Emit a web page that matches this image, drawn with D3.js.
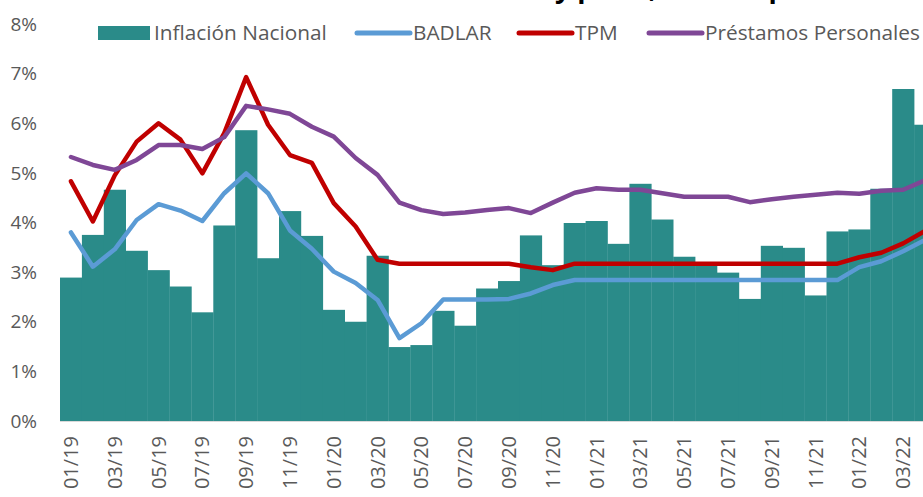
<!DOCTYPE html>
<html>
<head>
<meta charset="utf-8">
<script src="https://cdn.jsdelivr.net/npm/d3@7"></script>
<style>
  body { margin: 0; background: #fff; }
  svg { display: block; font-family: 'Open Sans', sans-serif; }
</style>
</head>
<body>
<div id="chart"></div>
<script>
// monthly series, % per month
const months = ['01/19','02/19','03/19','04/19','05/19','06/19','07/19','08/19','09/19','10/19','11/19','12/19',
  '01/20','02/20','03/20','04/20','05/20','06/20','07/20','08/20','09/20','10/20','11/20','12/20',
  '01/21','02/21','03/21','04/21','05/21','06/21','07/21','08/21','09/21','10/21','11/21','12/21',
  '01/22','02/22','03/22','04/22'];
const inflacion = [2.89,3.75,4.66,3.43,3.04,2.71,2.19,3.94,5.86,3.28,4.23,3.73,
  2.24,2.00,3.33,1.49,1.53,2.22,1.92,2.67,2.82,3.74,3.14,3.99,
  4.03,3.57,4.78,4.06,3.31,3.20,2.99,2.46,3.53,3.49,2.53,3.82,
  3.86,4.68,6.69,5.97];
const badlar = [3.80,3.11,3.46,4.05,4.37,4.24,4.03,4.59,4.99,4.59,3.84,3.47,
  3.01,2.78,2.44,1.67,1.97,2.45,2.45,2.45,2.46,2.57,2.74,2.84,
  2.84,2.84,2.84,2.84,2.84,2.84,2.84,2.84,2.84,2.84,2.84,2.84,
  3.10,3.22,3.42,3.65];
const tpm = [4.83,4.02,4.95,5.63,6.00,5.67,4.99,5.80,6.93,5.97,5.36,5.20,
  4.39,3.92,3.25,3.17,3.17,3.17,3.17,3.17,3.17,3.10,3.04,3.17,
  3.17,3.17,3.17,3.17,3.17,3.17,3.17,3.17,3.17,3.17,3.17,3.17,
  3.30,3.39,3.58,3.83];
const prestamos = [5.32,5.16,5.06,5.26,5.56,5.56,5.48,5.72,6.35,6.28,6.19,5.93,
  5.73,5.30,4.96,4.40,4.25,4.17,4.20,4.25,4.29,4.19,4.40,4.60,
  4.69,4.66,4.66,4.59,4.52,4.52,4.52,4.41,4.47,4.52,4.56,4.60,
  4.58,4.64,4.66,4.85];
const yTicks = [0, 1, 2, 3, 4, 5, 6, 7, 8];

const width = 923, height = 497;
const svg = d3.select('#chart').append('svg')
    .attr('width', width)
    .attr('height', height);

const x = d3.scaleBand()
    .domain(months)
    .range([60, 936])
    .padding(0);
const y = d3.scaleLinear()
    .domain([0, 8])
    .range([421, 24]);

// title, almost entirely cut off at the top of the picture
svg.append('text')
    .attr('x', 550).attr('y', -2)
    .attr('text-anchor', 'end')
    .style('font-weight', 'bold').style('font-size', '27px').attr('fill', '#000')
    .text('Tasas de interés nominales');
svg.append('text')
    .attr('x', 555).attr('y', -2)
    .style('font-weight', 'bold').style('font-size', '27px').attr('fill', '#000')
    .text('y plazo, tasa de préstamos');

// bars
svg.append('g')
  .selectAll('rect')
  .data(inflacion)
  .join('rect')
    .attr('x', (d, i) => x(months[i]))
    .attr('width', x.bandwidth() + 0.3)
    .attr('y', d => y(d))
    .attr('height', d => y(0) - y(d))
    .attr('fill', '#2a8b89');

// baseline
svg.append('line')
    .attr('x1', 60).attr('x2', width)
    .attr('y1', y(0) + 0.5).attr('y2', y(0) + 0.5)
    .attr('stroke', '#d9d9d9').attr('stroke-width', 1);

const series = [
  { name: 'BADLAR', values: badlar, color: '#5b9bd5' },
  { name: 'TPM', values: tpm, color: '#c00000' },
  { name: 'Préstamos Personales', values: prestamos, color: '#7f4796' }
];

const line = d3.line()
    .x((d, i) => x(months[i]) + x.bandwidth() / 2)
    .y(d => y(d));

svg.append('g')
  .selectAll('path')
  .data(series)
  .join('path')
    .attr('fill', 'none')
    .attr('stroke', d => d.color)
    .attr('stroke-width', 4.5)
    .attr('stroke-linejoin', 'round')
    .attr('stroke-linecap', 'round')
    .attr('d', d => line(d.values));

// y axis labels
svg.append('g')
  .selectAll('text')
  .data(yTicks)
  .join('text')
    .attr('x', 37)
    .attr('y', d => y(d))
    .attr('dy', '0.35em')
    .attr('text-anchor', 'end')
    .attr('fill', '#595959')
    .style('font-size', '19px')
    .text(d => d + '%');

// x axis labels, every second month
svg.append('g')
  .selectAll('text')
  .data(months.filter((m, i) => i % 2 === 0))
  .join('text')
    .attr('transform', d => `translate(${x(d) + x.bandwidth() / 2}, 436) rotate(-90)`)
    .attr('dy', '0.35em')
    .attr('text-anchor', 'end')
    .attr('fill', '#595959')
    .style('font-size', '20px')
    .text(d => d);

// legend
const legend = svg.append('g').style('font-size', '20.8px').attr('fill', '#595959');
legend.append('rect')
    .attr('x', 98).attr('y', 26).attr('width', 52).attr('height', 14)
    .attr('fill', '#2a8b89');
legend.append('text').attr('x', 154).attr('y', 33).attr('dy', '0.35em').text('Inflación Nacional');
const legendPos = [[357, 410, 413], [519, 572, 575], [649, 702, 705]];
series.forEach((s, i) => {
  const p = legendPos[i];
  legend.append('line')
      .attr('x1', p[0]).attr('x2', p[1]).attr('y1', 33).attr('y2', 33)
      .attr('stroke', s.color).attr('stroke-width', 5).attr('stroke-linecap', 'round');
  legend.append('text').attr('x', p[2]).attr('y', 33).attr('dy', '0.35em').text(s.name);
});
</script>
</body>
</html>
